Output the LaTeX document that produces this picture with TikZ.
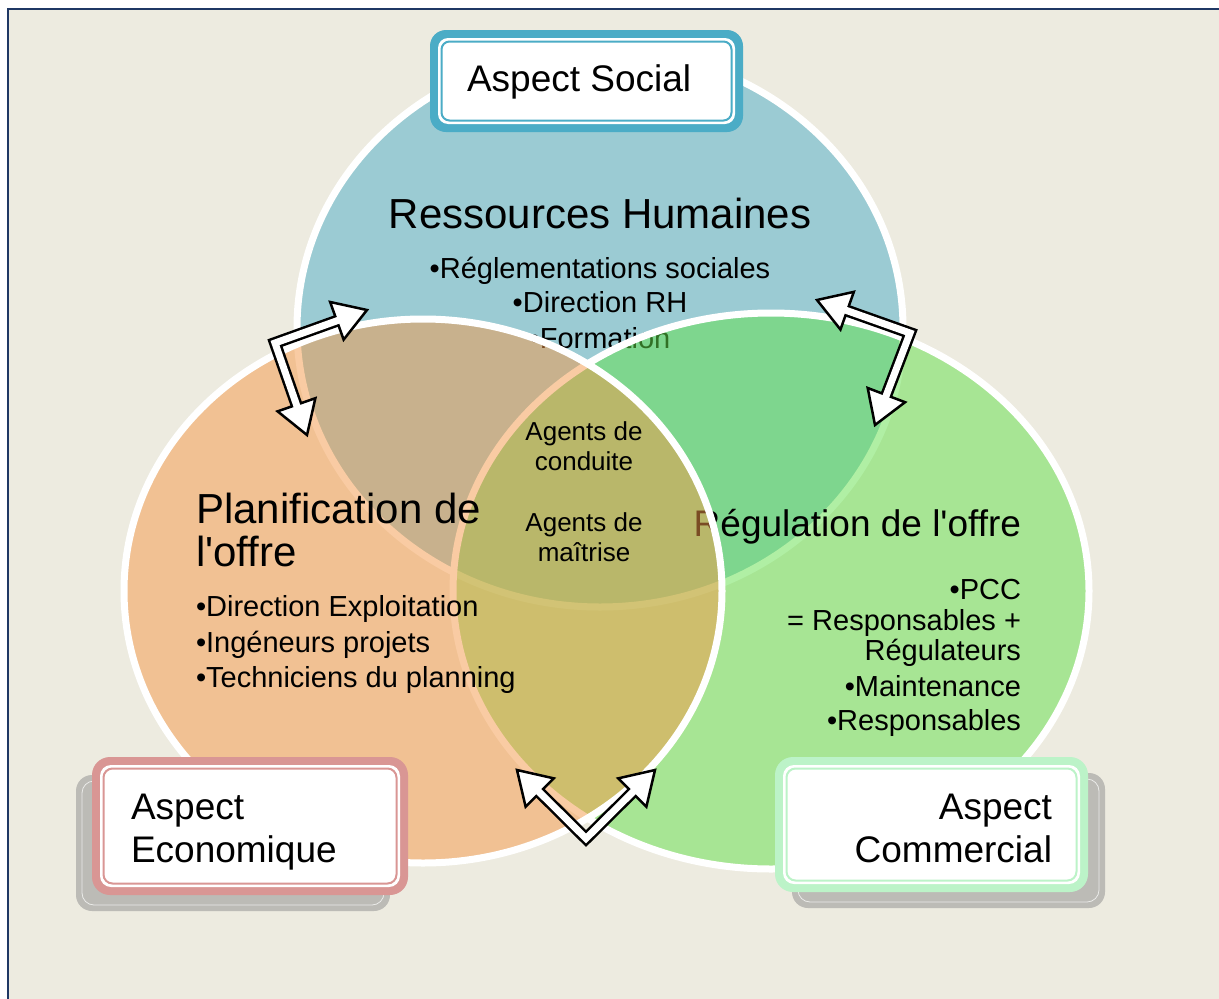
\documentclass[tikz,border=0pt]{standalone}
\usepackage{fontspec}
\setmainfont{Liberation Sans}[Ligatures=TeXOff]
\usetikzlibrary{calc}
\definecolor{bg}{RGB}{237,235,224}
\definecolor{navy}{RGB}{31,56,100}
\definecolor{cblue}{RGB}{155,203,211}
\definecolor{cgreen}{RGB}{99,225,74}
\definecolor{corange}{RGB}{245,153,72}
\definecolor{sblue}{RGB}{75,172,198}
\definecolor{spink}{RGB}{217,150,148}
\definecolor{smint}{RGB}{188,243,200}
\definecolor{shad}{RGB}{188,187,182}
\newcommand\fs[2]{\fontsize{#1}{#2}\selectfont}
\newcommand\bentarrow[3]{%
  \coordinate (ba) at ($(#1)!32pt!(#2)$);
  \coordinate (bb) at ($(#3)!32pt!(#2)$);
  \draw[black, line width=12pt, line join=miter] (ba) -- (#2) -- (bb);
  \draw[arrhead] (#1) -- ($(ba)!20pt!90:(#1)$) -- ($(ba)!20pt!-90:(#1)$) -- cycle;
  \draw[arrhead] (#3) -- ($(bb)!20pt!90:(#3)$) -- ($(bb)!20pt!-90:(#3)$) -- cycle;
  \draw[white, line width=7pt, line join=miter] ($(ba)!-4pt!(#2)$) -- (#2) -- ($(bb)!-4pt!(#2)$);
}
\begin{document}
\begin{tikzpicture}[x=1pt,y=-1pt,
  every node/.style={inner sep=0pt, outer sep=0pt},
  venn/.style={draw=white, line width=7pt},
  bigtitle/.style={font=\fs{42}{43}},
  midtitle/.style={font=\fs{37}{43}},
  bullet/.style={font=\fs{29}{35}},
  centre/.style={font=\fs{26}{30}},
  boxtext/.style={font=\fs{37}{43}},
  arrhead/.style={draw=black, line width=2.5pt, fill=white, line join=miter}]
\useasboundingbox (0,0) rectangle (1219,999);
\fill[white] (0,0) rectangle (1219,999);
\draw[navy, line width=2.5pt, fill=bg] (8,9) rectangle (1240,1020);

% blue circle and its text
\draw[venn, fill=cblue] (600,328) ellipse [x radius=303pt, y radius=279pt];
\node[bigtitle, anchor=base] (rh) at (600,228) {Ressources Humaines};
\node[bullet, anchor=base] (rh1) at (600,278.5) {•Réglementations sociales};
\node[bullet, anchor=base] (rh2) at (600,312.5) {•Direction RH};
\node[bullet, anchor=base] (rh3) at (600,348.5) {•Formation};

% green circle and its text
\draw[venn, fill=cgreen, fill opacity=0.5] (771,591) ellipse [x radius=318pt, y radius=278pt];
\node[midtitle, anchor=base east] (ro) at (1021,536) {Régulation de l'offre};
\node[bullet, anchor=base east] (ro1) at (1021,599.5) {•PCC};
\node[bullet, anchor=base east] (ro2) at (1021,630.5) {= Responsables +};
\node[bullet, anchor=base east] (ro3) at (1021,660.5) {Régulateurs};
\node[bullet, anchor=base east] (ro4) at (1021,696.5) {•Maintenance};
\node[bullet, anchor=base east] (ro5) at (1021,730.5) {•Responsables};

% orange circle and its text
\draw[venn, fill=corange, fill opacity=0.5] (423,591) ellipse [x radius=299pt, y radius=272pt];
\node[bigtitle, anchor=base west] (po1) at (196,523) {Planification de};
\node[bigtitle, anchor=base west] (po2) at (196,566) {l'offre};
\node[bullet, anchor=base west] (po3) at (196,616) {•Direction Exploitation};
\node[bullet, anchor=base west] (po4) at (196,652) {•Ingéneurs projets};
\node[bullet, anchor=base west] (po5) at (196,687) {•Techniciens du planning};

% centre
\node[centre, anchor=base] (c1) at (584,440) {Agents de};
\node[centre, anchor=base] (c2) at (584,470) {conduite};
\node[centre, anchor=base] (c3) at (584,531) {Agents de};
\node[centre, anchor=base] (c4) at (584,561) {maîtrise};

% arrows
\coordinate (a1) at (307,435); \coordinate (k1) at (275,343); \coordinate (b1) at (367,310);
\coordinate (a2) at (817,300); \coordinate (k2) at (910,333); \coordinate (b2) at (875,425);
\coordinate (a3) at (517,770); \coordinate (k3) at (586,838.5); \coordinate (b3) at (655,770);
\bentarrow{a1}{k1}{b1}
\bentarrow{a2}{k2}{b2}
\bentarrow{a3}{k3}{b3}

% Aspect Social
\fill[sblue, rounded corners=16pt] (430,30) rectangle (743,132);
\fill[white, rounded corners=10pt] (438,38) rectangle (735,124);
\draw[sblue, line width=2pt, rounded corners=8pt] (441.5,41.5) rectangle (731.5,120.5);
\node[boxtext, anchor=base west] (as) at (467,91) {Aspect Social};

% Aspect Economique
\fill[shad, rounded corners=16pt] (76,775) rectangle (390,911);
\draw[white!70!shad, line width=0.8pt, rounded corners=12pt] (82,781) rectangle (384,905);
\fill[spink, rounded corners=18pt] (92,757) rectangle (408,895);
\fill[white, rounded corners=11pt] (100,765) rectangle (400,887);
\draw[spink, line width=2pt, rounded corners=9pt] (103.5,768.5) rectangle (396.5,883.5);
\node[boxtext, anchor=base west] (ae1) at (131,819) {Aspect};
\node[boxtext, anchor=base west] (ae2) at (131,862) {Economique};

% Aspect Commercial
\fill[shad, rounded corners=16pt] (792,773) rectangle (1105,908);
\draw[white!70!shad, line width=0.8pt, rounded corners=12pt] (798,779) rectangle (1099,902);
\fill[smint, rounded corners=18pt] (775,757) rectangle (1088,892);
\fill[white, rounded corners=11pt] (783,765) rectangle (1080,884);
\draw[smint, line width=2pt, rounded corners=9pt] (786.5,768.5) rectangle (1076.5,880.5);
\node[boxtext, anchor=base east] (ac1) at (1052,819) {Aspect};
\node[boxtext, anchor=base east] (ac2) at (1052,862) {Commercial};
\end{tikzpicture}
\end{document}
